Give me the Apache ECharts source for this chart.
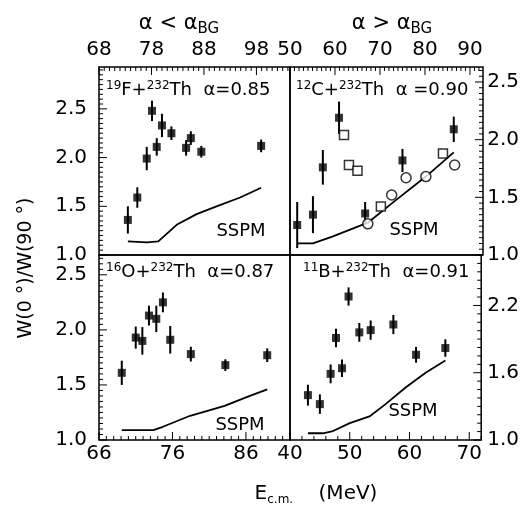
<!DOCTYPE html>
<html>
<head>
<meta charset="utf-8">
<script src="https://cdn.jsdelivr.net/npm/echarts@6/dist/echarts.min.js"></script>
<style>
  html, body { margin: 0; padding: 0; background: #fff; }
  #chart { width: 522px; height: 506px; }
</style>
</head>
<body>
<div id="chart"></div>
<script>
  // 19F + 232Th  (top left)
  const fE = [73.5, 75.3, 77.1, 78.1, 79.0, 80.0, 81.8, 84.6, 85.5, 87.5, 98.9]
  const fW = [1.36, 1.59, 1.99, 2.48, 2.11, 2.33, 2.25, 2.10, 2.20, 2.06, 2.12]
  const fErr = [0.14, 0.105, 0.12, 0.105, 0.09, 0.12, 0.07, 0.08, 0.07, 0.06, 0.065]
  const fSspmE = [73.5, 77.1, 79.3, 82.8, 86.6, 90.4, 94.9, 98.9]
  const fSspmW = [1.14, 1.13, 1.14, 1.31, 1.42, 1.50, 1.59, 1.69]

  // 12C + 232Th  (top right)
  const cE = [51.6, 55.1, 57.3, 60.9, 66.7, 75.0, 86.4]
  const cW = [1.26, 1.35, 1.76, 2.19, 1.36, 1.82, 2.09]
  const cErr = [0.2, 0.16, 0.15, 0.14, 0.1, 0.1, 0.11]
  const cSquareE = [62.0, 63.1, 65.0, 70.2, 84.0]
  const cSquareW = [2.04, 1.78, 1.73, 1.42, 1.88]
  const cCircleE = [67.3, 72.6, 75.8, 80.2, 86.6]
  const cCircleW = [1.27, 1.52, 1.67, 1.68, 1.78]
  const cSspmE = [51.6, 55.1, 59.4, 67.3, 72.7, 80.2, 86.4]
  const cSspmW = [1.10, 1.10, 1.16, 1.28, 1.45, 1.68, 1.89]

  // 16O + 232Th  (bottom left)
  const oE = [69.1, 71.0, 71.9, 72.8, 73.8, 74.7, 75.7, 78.5, 83.2, 88.9]
  const oW = [1.61, 1.93, 1.90, 2.13, 2.10, 2.25, 1.91, 1.78, 1.68, 1.77]
  const oErr = [0.11, 0.10, 0.125, 0.09, 0.12, 0.09, 0.125, 0.067, 0.053, 0.062]
  const oSspmE = [69.1, 73.4, 74.7, 78.4, 83.1, 86.1, 88.9]
  const oSspmW = [1.09, 1.09, 1.12, 1.22, 1.31, 1.39, 1.46]

  // 11B + 232Th  (bottom right)
  const bE = [43.0, 45.0, 46.8, 47.7, 48.7, 49.8, 51.6, 53.5, 57.3, 61.1, 66.0]
  const bW = [1.40, 1.32, 1.59, 1.91, 1.64, 2.28, 1.96, 1.98, 2.03, 1.76, 1.82]
  const bErr = [0.093, 0.087, 0.084, 0.083, 0.078, 0.081, 0.084, 0.086, 0.086, 0.07, 0.078]
  const bSspmE = [43.0, 45.5, 47.2, 50.0, 53.3, 56.0, 59.4, 62.7, 66.0]
  const bSspmW = [1.06, 1.06, 1.08, 1.15, 1.21, 1.32, 1.47, 1.60, 1.71]

  const FONT = 'DejaVu Sans'
  const zip = (a, b, c) => a.map((v, i) => c ? [v, b[i], c[i]] : [v, b[i]])

  // x: [min, max, label step, minor step, side], y likewise
  let panels = [
    { left: 99, top: 67, width: 191, height: 188, x: [68, 104.4, 10, 1, 'top'], y: [1, 2.93, 0.5, 0.05, 'left'] },
    { left: 290, top: 67, width: 193, height: 188, x: [50, 92.9, 10, 1, 'top'], y: [1, 2.63, 0.5, 0.05, 'right'] },
    { left: 99, top: 255, width: 191, height: 185, x: [66, 92, 10, 1, 'bottom'], y: [1, 2.68, 0.5, 0.05, 'left'] },
    { left: 290, top: 255, width: 193, height: 185, x: [40, 72, 10, 2, 'bottom'], y: [1, 2.65, 0.6, 0.075, 'right'] }
  ]

  function onStep (v, min, step) {
    let k = (v - min) / step
    return Math.abs(k - Math.round(k)) < 1e-6
  }

  function axis (i, min, max, step, pos, isX, showLabel) {
    return {
      gridIndex: i, type: 'value', min: min, max: max, interval: step, position: pos,
      axisLine: { show: false }, splitLine: { show: false },
      axisTick: { show: false }, minorTick: { show: false },
      axisLabel: {
        show: showLabel, color: '#000', fontFamily: FONT, fontSize: 20,
        margin: isX ? (pos === 'top' ? 7 : 4) : (pos === 'left' ? 12 : 6),
        padding: isX ? 0 : [0, 0, 8, 0],
        formatter: v => onStep(v, min, step) ? (isX ? String(Math.round(v)) : v.toFixed(1)) : ''
      }
    }
  }

  let grids = [], xAxes = [], yAxes = []
  panels.forEach((p, i) => {
    grids.push({ left: p.left, top: p.top, width: p.width, height: p.height, show: true,
      backgroundColor: 'rgba(0,0,0,0)', borderColor: '#000', borderWidth: 1.5 })
    xAxes.push(axis(i, p.x[0], p.x[1], p.x[2], p.x[4], true, true))
    yAxes.push(axis(i, p.y[0], p.y[1], p.y[2], p.y[4], false, i !== 1))
  })
  // the top right labels come from a taller copy of the same scale, so 2.5 is not crowded by the top edge
  {
    let p = panels[1]
    let perUnit = p.height / (p.y[1] - p.y[0])
    let extra = 40
    grids.push({ left: p.left, top: p.top - extra, width: p.width, height: p.height + extra })
    xAxes.push(Object.assign(axis(4, p.x[0], p.x[1], p.x[2], 'top', true, false), { show: false }))
    yAxes.push(axis(4, p.y[0], p.y[1] + extra / perUnit, p.y[2], 'right', false, true))
  }

  // tick marks pointing into each panel, placed through the panel's own scales
  function ticks (i) {
    let p = panels[i]
    let [x0, x1, xs, xm, xpos] = p.x
    let [y0, y1, ys, ym, ypos] = p.y
    let data = []
    for (let k = 0; x0 + k * xm <= x1 + 1e-9; k++) {
      let v = x0 + k * xm
      data.push([0, v, onStep(v, x0, xs) ? 8 : 4])
    }
    for (let k = 0; y0 + k * ym <= y1 + 1e-9; k++) {
      let v = y0 + k * ym
      data.push([1, v, onStep(v, y0, ys) ? 8 : 4])
    }
    return {
      type: 'custom', xAxisIndex: i, yAxisIndex: i, data: data, silent: true, z: 4,
      renderItem: (params, api) => {
        let kind = api.value(0), v = api.value(1), len = api.value(2)
        let pt, dx = 0, dy = 0
        if (kind === 0) {
          pt = api.coord([v, xpos === 'top' ? y1 : y0])
          dy = xpos === 'top' ? len : -len
        } else {
          pt = api.coord([ypos === 'left' ? x0 : x1, v])
          dx = ypos === 'left' ? len : -len
        }
        return { type: 'line', shape: { x1: pt[0], y1: pt[1], x2: pt[0] + dx, y2: pt[1] + dy },
          style: { stroke: '#000', lineWidth: 1 } }
      }
    }
  }

  function errorBars (i, data) {
    return {
      type: 'custom', xAxisIndex: i, yAxisIndex: i, data: data, silent: true,
      renderItem: (params, api) => {
        let x = api.value(0), y = api.value(1), e = api.value(2)
        let p1 = api.coord([x, y - e]), p2 = api.coord([x, y + e])
        return { type: 'line', shape: { x1: p1[0], y1: p1[1], x2: p2[0], y2: p2[1] },
          style: { stroke: '#000', lineWidth: 2 } }
      }
    }
  }
  function filled (i, data) {
    return { type: 'scatter', xAxisIndex: i, yAxisIndex: i, data: data, symbol: 'rect',
      symbolSize: 8, itemStyle: { color: '#000' }, z: 3 }
  }
  function sspm (i, data) {
    return { type: 'line', xAxisIndex: i, yAxisIndex: i, data: data, showSymbol: false,
      lineStyle: { color: '#000', width: 1.8 } }
  }

  let series = [
    ticks(0), ticks(1), ticks(2), ticks(3),
    errorBars(0, zip(fE, fW, fErr)), filled(0, zip(fE, fW)), sspm(0, zip(fSspmE, fSspmW)),
    errorBars(1, zip(cE, cW, cErr)), filled(1, zip(cE, cW)), sspm(1, zip(cSspmE, cSspmW)),
    { type: 'scatter', xAxisIndex: 1, yAxisIndex: 1, data: zip(cSquareE, cSquareW), symbol: 'rect',
      symbolSize: 9, itemStyle: { color: '#fff', borderColor: '#000', borderWidth: 1.5 }, z: 3 },
    { type: 'scatter', xAxisIndex: 1, yAxisIndex: 1, data: zip(cCircleE, cCircleW), symbol: 'circle',
      symbolSize: 10, itemStyle: { color: '#fff', borderColor: '#000', borderWidth: 1.5 }, z: 3 },
    errorBars(2, zip(oE, oW, oErr)), filled(2, zip(oE, oW)), sspm(2, zip(oSspmE, oSspmW)),
    errorBars(3, zip(bE, bW, bErr)), filled(3, zip(bE, bW)), sspm(3, zip(bSspmE, bSspmW))
  ]

  const rich = {
    n: { fontFamily: FONT, fontSize: 18, fill: '#000' },
    sup: { fontFamily: FONT, fontSize: 12, fill: '#000', verticalAlign: 'top', padding: [0, 0, 8, 0] },
    a: { fontFamily: FONT, fontSize: 21, fill: '#000' },
    sub: { fontFamily: FONT, fontSize: 15, fill: '#000', padding: [10, 0, 0, 0] },
    e: { fontFamily: FONT, fontSize: 20, fill: '#000' },
    esub: { fontFamily: FONT, fontSize: 12, fill: '#000', padding: [12, 0, 0, 0] }
  }
  function txt (x, y, text, align, extra) {
    return Object.assign({ type: 'text', x: x, y: y, z: 10,
      style: { text: text, rich: rich, align: align || 'left', verticalAlign: 'middle',
        fontFamily: FONT, fontSize: 18, fill: '#000' } }, extra || {})
  }

  let graphic = [
    txt(179, 24, '{a|α < α}{sub|BG}', 'center'),
    txt(392, 24, '{a|α > α}{sub|BG}', 'center'),
    txt(106, 90, '{sup|19}{n|F+}{sup|232}{n|Th  α=0.85}'),
    txt(296, 90, '{sup|12}{n|C+}{sup|232}{n|Th  α =0.90}'),
    txt(106, 272, '{sup|16}{n|O+}{sup|232}{n|Th  α=0.87}'),
    txt(303, 272, '{sup|11}{n|B+}{sup|232}{n|Th  α=0.91}'),
    txt(241, 231, 'SSPM', 'center'),
    txt(414, 230, 'SSPM', 'center'),
    txt(240, 425, 'SSPM', 'center'),
    txt(413, 411, 'SSPM', 'center'),
    txt(316, 494, '{e|E}{esub|c.m.}{e|    (MeV)}', 'center'),
    txt(26, 268, 'W(0 °)/W(90 °)', 'center', { rotation: Math.PI / 2 })
  ]
  graphic[graphic.length - 1].style.fontSize = 19

  let myChart = echarts.init(document.getElementById('chart'))
  myChart.setOption({
    animation: false,
    backgroundColor: '#fff',
    grid: grids,
    xAxis: xAxes,
    yAxis: yAxes,
    series: series,
    graphic: graphic
  })
</script>
</body>
</html>
